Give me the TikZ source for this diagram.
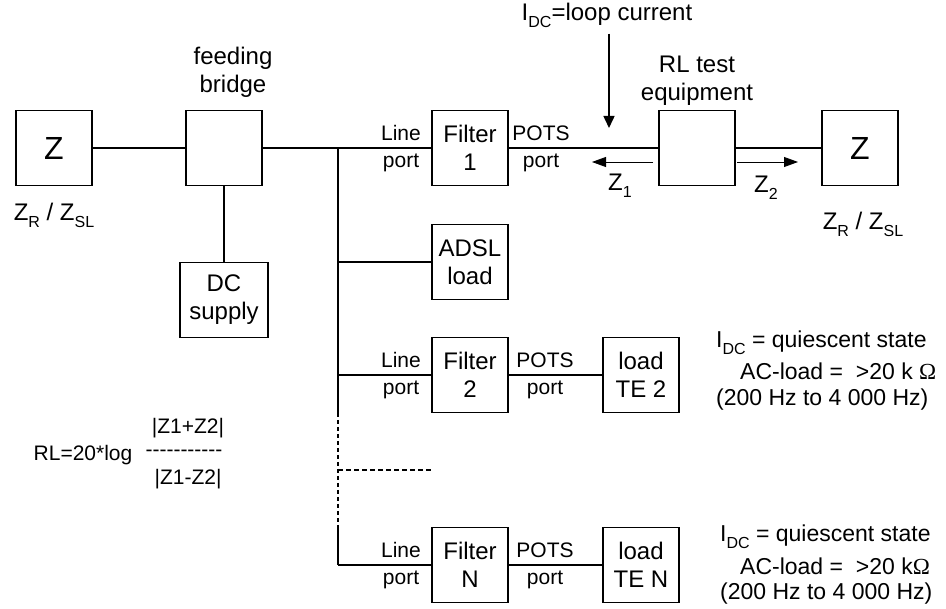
\documentclass[tikz,border=0pt]{standalone}
\usepackage{fontspec}
\setmainfont{Liberation Sans}
\newfontfamily\omegafont{Liberation Serif}
\usetikzlibrary{arrows.meta}
\newcommand{\lowsub}[1]{\raisebox{-0.3em}{\fontsize{16}{16}\selectfont #1}}

\begin{document}
\begin{tikzpicture}[x=1pt, y=-1pt,
        box/.style={draw, line width=1.6pt, minimum width=76pt, minimum height=75pt, inner sep=0pt, align=center, font=\fontsize{24}{28}\selectfont},
        port/.style={inner sep=0pt, align=center, font=\fontsize{21}{27}\selectfont},
        txt/.style={inner sep=0pt, align=center, font=\fontsize{24}{28}\selectfont},
        note/.style={inner sep=0pt, anchor=west, font=\fontsize{23}{28}\selectfont},
        wire/.style={line width=1.5pt},
        dots/.style={line width=1.5pt, dash pattern=on 5pt off 3pt}]
                \useasboundingbox (0,0) rectangle (946,609);

                % Line side
                \node[box, font=\fontsize{32}{32}\selectfont] (zl) at (54,148) {Z};
                \node[txt] (zllab) at (54,215) {Z\lowsub{R} / Z\lowsub{SL}};
                \node[box] (fb) at (224,148) {};
                \node[txt] (fblab) at (233,72) {feeding\\bridge};
                \node[box, minimum width=88pt] (dc) at (224,300) {DC\\supply};

                % Bus points
                \coordinate (b1) at (338,148);
                \coordinate (b2) at (338,262);
                \coordinate (b3) at (338,375);
                \coordinate (b4) at (338,413);
                \coordinate (bm) at (338,470);
                \coordinate (b5) at (338,527);
                \coordinate (b6) at (338,565);
                \coordinate (bstub) at (433,470);

                % Filters and loads
                \node[box] (f1) at (470,148) {Filter\\1};
                \node[box] (adsl) at (470,262) {ADSL\\load};
                \node[box] (f2) at (470,375) {Filter\\2};
                \node[box] (fn) at (470,565) {Filter\\N};
                \node[box] (te2) at (641,375) {load\\TE 2};
                \node[box] (ten) at (641,565) {load\\TE N};

                \node[port] (lp1) at (401,149) {Line\\port};
                \node[port] (pp1) at (541,149) {POTS\\port};
                \node[port] (lp2) at (401,376) {Line\\port};
                \node[port] (pp2) at (545,376) {POTS\\port};
                \node[port] (lpn) at (401,566) {Line\\port};
                \node[port] (ppn) at (545,566) {POTS\\port};

                % Test side
                \node[box] (rl) at (697,148) {};
                \node[txt] (rllab) at (697,81) {RL test\\equipment};
                \node[box, font=\fontsize{32}{32}\selectfont] (zr) at (860,148) {Z};
                \node[txt] (zrlab) at (863,224) {Z\lowsub{R} / Z\lowsub{SL}};

                % Wires
                \draw[wire] (zl.east) -- (fb.west);
                \draw[wire] (fb.east) -- (f1.west);
                \draw[wire] (fb.south) -- (dc.north);
                \draw[wire] (f1.east) -- (rl.west);
                \draw[wire] (rl.east) -- (zr.west);
                \draw[wire] (b1) -- (b4);
                \draw[dots, dash pattern=on 4pt off 3pt] (b4) -- (b5);
                \draw[wire] (b5) -- (b6);
                \draw[dots] (bm) -- (bstub);
                \draw[wire] (b2) -- (adsl.west);
                \draw[wire] (b3) -- (f2.west);
                \draw[wire] (b6) -- (fn.west);
                \draw[wire] (f2.east) -- (te2.west);
                \draw[wire] (fn.east) -- (ten.west);

                % Loop current and impedances
                \node[txt] (idc) at (607,15) {I\lowsub{DC}=loop current};
                \coordinate (idcend) at (609,128);
                \draw[wire, -{Triangle[length=12pt, width=11pt]}] (idc.south -| idcend) ++(0,6) -- (idcend);
                \coordinate (z1s) at (653,162);
                \coordinate (z1e) at (592,162);
                \coordinate (z2s) at (737,162);
                \coordinate (z2e) at (798,162);
                \draw[line width=0.8pt, -{Triangle[length=14pt, width=10pt]}] (z1s) -- (z1e);
                \draw[line width=0.8pt, -{Triangle[length=14pt, width=10pt]}] (z2s) -- (z2e);
                \node[txt] (z1) at (620,186) {Z\lowsub{1}};
                \node[txt] (z2) at (766,188) {Z\lowsub{2}};

                % Return loss
                \node[port] (rlf) at (83,455) {RL=20*log};
                \node[port] (num) at (188,428) {|Z1+Z2|};
                \node[port] (bar) at (184,453) {-{}-{}-{}-{}-{}-{}-{}-{}-{}-{}-};
                \node[port] (den) at (188,479) {|Z1-Z2|};

                % Load conditions
                \node[note] (q1) at (716,343) {I\lowsub{DC} = quiescent state};
                \node[note] (a1) at (740,371) {AC-load =\ \ >20 k {\omegafont\char"03A9}};
                \node[note] (h1) at (716,400) {(200 Hz to 4 000 Hz)};
                \node[note] (q2) at (720,537) {I\lowsub{DC} = quiescent state};
                \node[note] (a2) at (740,566) {AC-load =\ \ >20 k{\omegafont\char"03A9}};
                \node[note] (h2) at (720,594) {(200 Hz to 4 000 Hz)};
            \end{tikzpicture}
\end{document}
